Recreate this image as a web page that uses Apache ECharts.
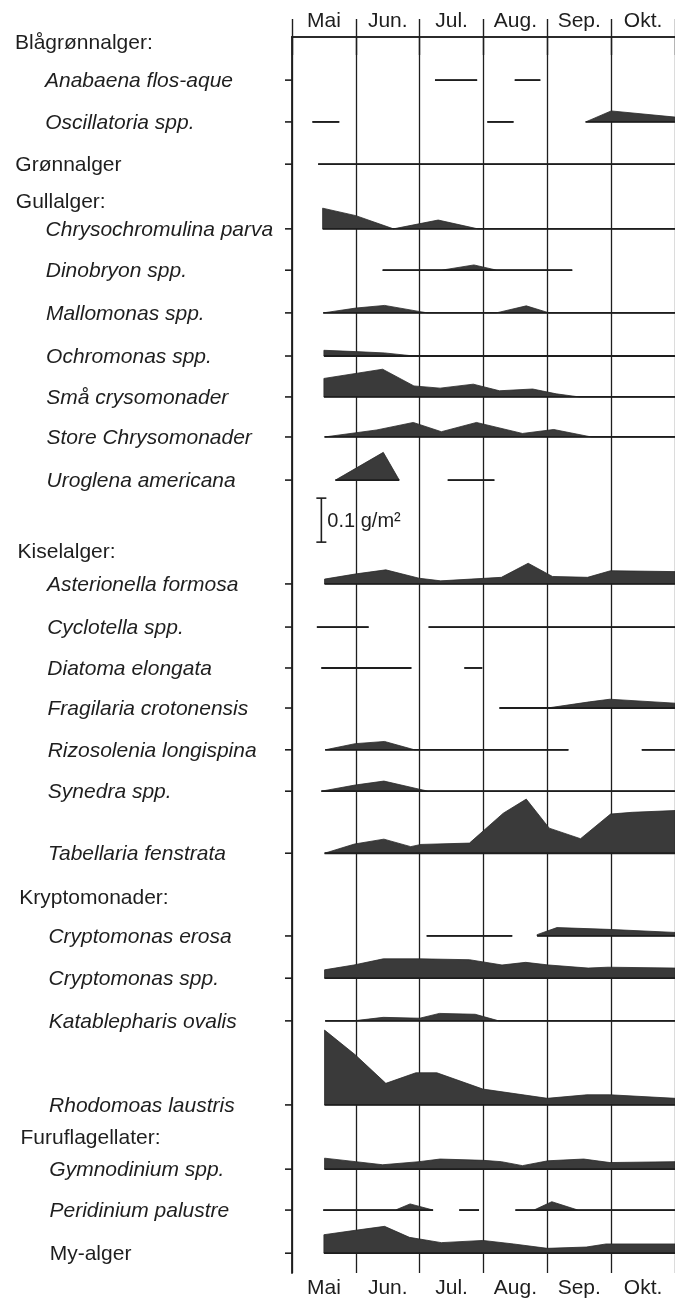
<!DOCTYPE html>
<html>
<head>
<meta charset="utf-8">
<script src="https://cdn.jsdelivr.net/npm/echarts/dist/echarts.min.js"></script>
<style>
html,body{margin:0;padding:0;background:#fff;}
#chart{width:675px;height:1302px;}
</style>
</head>
<body>
<div id="chart"></div>
<script>
// ---- Data (months: 0 = 1 May ... 6 = end of October; values in g/m²) ----
const MONTHS = ['Mai', 'Jun.', 'Jul.', 'Aug.', 'Sep.', 'Okt.'];

const GROUP_HEADERS = ['Blågrønnalger:', 'Gullalger:', 'Kiselalger:', 'Kryptomonader:', 'Furuflagellater:'];

const SPECIES_NAMES = [
  'Anabaena flos-aque', 'Oscillatoria spp.', 'Grønnalger',
  'Chrysochromulina parva', 'Dinobryon spp.', 'Mallomonas spp.', 'Ochromonas spp.',
  'Små crysomonader', 'Store Chrysomonader', 'Uroglena americana',
  'Asterionella formosa', 'Cyclotella spp.', 'Diatoma elongata', 'Fragilaria crotonensis',
  'Rizosolenia longispina', 'Synedra spp.', 'Tabellaria fenstrata',
  'Cryptomonas erosa', 'Cryptomonas spp.', 'Katablepharis ovalis', 'Rhodomoas laustris',
  'Gymnodinium spp.', 'Peridinium palustre', 'My-alger'
];

const anabaena = [[[2.24,0],[2.90,0]], [[3.49,0],[3.89,0]]];
const oscillatoria = [[[0.32,0],[0.74,0]], [[3.06,0],[3.47,0]], [[4.60,0],[5.00,0.025],[6.0,0.011]]];
const gronnalger = [[[0.41,0],[6.0,0]]];
const chrysochromulina = [[[0.48,0.047],[1.0,0.030],[1.59,0],[2.29,0.020],[2.91,0],[6.0,0]]];
const dinobryon = [[[1.42,0],[2.34,0],[2.85,0.012],[3.21,0],[4.39,0]]];
const mallomonas = [[[0.49,0],[1.0,0.011],[1.45,0.017],[2.12,0],[3.2,0],[3.67,0.016],[4.03,0],[6.0,0]]];
const ochromonas = [[[0.50,0.013],[1.0,0.010],[1.45,0.007],[1.91,0],[6.0,0]]];
const smaCrysomonader = [[[0.50,0.042],[1.42,0.063],[1.91,0.025],[2.32,0.020],[2.84,0.029],[3.25,0.014],[3.77,0.018],[4.14,0.007],[4.50,0],[6.0,0]]];
const storeChrysomonader = [[[0.51,0],[1.33,0.016],[1.90,0.033],[2.34,0.012],[2.89,0.033],[3.61,0.008],[4.10,0.017],[4.69,0],[6.0,0]]];
const uroglena = [[[0.68,0],[1.43,0.063],[1.68,0]], [[2.44,0],[3.17,0]]];
const asterionella = [[[0.51,0.011],[1.01,0.023],[1.47,0.032],[1.99,0.013],[2.33,0.007],[3.28,0.015],[3.70,0.047],[4.08,0.017],[4.63,0.015],[4.99,0.030],[6.0,0.028]]];
const cyclotella = [[[0.39,0],[1.20,0]], [[2.14,0],[6.0,0]]];
const diatoma = [[[0.46,0],[1.87,0]], [[2.70,0],[2.98,0]]];
const fragilaria = [[[3.25,0],[4.0,0],[4.66,0.014],[4.98,0.020],[6.0,0.011]]];
const rizosolenia = [[[0.52,0],[0.99,0.014],[1.45,0.019],[1.92,0],[4.33,0]], [[5.48,0],[6.0,0]]];
const synedra = [[[0.46,0],[0.99,0.014],[1.44,0.023],[2.13,0],[6.0,0]]];
const tabellaria = [[[0.51,0],[0.98,0.021],[1.44,0.032],[1.86,0.015],[2.02,0.020],[2.78,0.023],[3.31,0.091],[3.67,0.123],[4.03,0.057],[4.52,0.033],[4.99,0.089],[5.33,0.093],[6.0,0.097]]];
const cryptomonasErosa = [[[2.11,0],[3.45,0]], [[3.84,0.003],[4.15,0.019],[4.95,0.015],[6.0,0.008]]];
const cryptomonasSpp = [[[0.51,0.019],[0.97,0.030],[1.43,0.044],[2.0,0.044],[2.78,0.042],[3.29,0.030],[3.66,0.036],[4.02,0.030],[4.64,0.023],[4.95,0.025],[6.0,0.023]]];
const katablepharis = [[[0.52,0],[0.96,0],[1.43,0.008],[2.0,0.006],[2.31,0.017],[2.87,0.015],[3.24,0],[6.0,0]]];
const rhodomoas = [[[0.51,0.170],[0.99,0.114],[1.47,0.049],[1.94,0.073],[2.27,0.073],[2.99,0.036],[4.0,0.015],[4.62,0.023],[4.98,0.023],[6.0,0.015]]];
const gymnodinium = [[[0.51,0.025],[1.0,0.017],[1.42,0.010],[1.99,0.017],[2.32,0.023],[3.0,0.020],[3.28,0.017],[3.61,0.008],[4.01,0.019],[4.57,0.023],[4.98,0.015],[6.0,0.017]]];
const peridinium = [[[0.49,0],[1.62,0],[1.85,0.014],[2.21,0]], [[2.62,0],[2.93,0]], [[3.50,0],[3.79,0],[4.07,0.019],[4.48,0],[6.0,0]]];
const myAlger = [[[0.50,0.042],[0.99,0.052],[1.45,0.061],[1.84,0.036],[2.34,0.024],[2.99,0.029],[3.47,0.021],[4.0,0.011],[4.61,0.014],[4.92,0.021],[6.0,0.021]]];

const SPECIES_DATA = [
  anabaena, oscillatoria, gronnalger,
  chrysochromulina, dinobryon, mallomonas, ochromonas, smaCrysomonader, storeChrysomonader, uroglena,
  asterionella, cyclotella, diatoma, fragilaria, rizosolenia, synedra, tabellaria,
  cryptomonasErosa, cryptomonasSpp, katablepharis, rhodomoas,
  gymnodinium, peridinium, myAlger
];

const SCALE_BAR_VALUE = 0.1; // g/m²
const SCALE_BAR_LABEL = '0.1 g/m²';

// ---- Layout (row baselines on the vertical axis, 1 unit = 0.1 g/m²) ----
const UNIT = 0.1;
const ROW_POS = [0.98, 1.93, 2.89, 4.36, 5.30, 6.27, 7.25, 8.18, 9.09, 10.07,
  12.43, 13.41, 14.34, 15.25, 16.20, 17.14, 18.55,
  20.43, 21.39, 22.36, 24.27, 25.73, 26.66, 27.64];
const ROW_ITALIC = SPECIES_NAMES.map(n => !(n === 'Grønnalger' || n === 'My-alger'));
const ROW_HEADER_INDENT = SPECIES_NAMES.map(n => n === 'Grønnalger');
const HEADER_POS = [0.14, 3.75, 11.70, 19.57, 25.02];
const SCALE_BAR_POS = [0.46, 11.48];
const Y_MAX = 28.09;

const FONT = '"Liberation Sans", Arial, Helvetica, sans-serif';
const INK = '#1e1e1e';
const FILL = '#3a3a3a';

const chart = echarts.init(document.getElementById('chart'), null, {renderer: 'canvas'});

function renderKite(params, api) {
  const k = api.value(0), s = api.value(1);
  const seg = SPECIES_DATA[k][s];
  const base = ROW_POS[k];
  const pts = seg.map(p => api.coord([p[0], base - p[1] / UNIT]));
  const b0 = api.coord([seg[0][0], base]);
  const b1 = api.coord([seg[seg.length - 1][0], base]);
  const poly = [b0].concat(pts, [b1]);
  return {
    type: 'group',
    children: [
      {type: 'polygon', shape: {points: poly}, style: {fill: FILL, stroke: '#2a2a2a', lineWidth: 0.8}},
      {type: 'line', shape: {x1: b0[0], y1: b0[1], x2: b1[0], y2: b1[1]}, style: {stroke: INK, lineWidth: 1.8}}
    ]
  };
}

function renderRowLabel(params, api) {
  const i = api.value(0);
  const c = api.coord([0, ROW_POS[i]]);
  const y = c[1];
  const indent = ROW_HEADER_INDENT[i] ? 15 : 45;
  const x = indent + (y - 80) * 0.004;
  return {
    type: 'group',
    children: [
      {type: 'line', shape: {x1: c[0] - 7, y1: y, x2: c[0], y2: y}, style: {stroke: INK, lineWidth: 1.6}},
      {type: 'text', x: x, y: y + 1, style: {text: SPECIES_NAMES[i], fill: INK,
        font: (ROW_ITALIC[i] ? 'italic ' : '') + '21px ' + FONT, align: 'left', verticalAlign: 'middle'}}
    ]
  };
}

function renderHeader(params, api) {
  const i = api.value(0);
  const c = api.coord([0, HEADER_POS[i]]);
  const y = c[1];
  const x = 15 + (y - 43) * 0.005;
  return {type: 'text', x: x, y: y, style: {text: GROUP_HEADERS[i], fill: INK,
    font: '21px ' + FONT, align: 'left', verticalAlign: 'middle'}};
}

function renderScaleBar(params, api) {
  const bottom = api.coord([SCALE_BAR_POS[0], SCALE_BAR_POS[1]]);
  const top = api.coord([SCALE_BAR_POS[0], SCALE_BAR_POS[1] - SCALE_BAR_VALUE / UNIT]);
  const st = {stroke: INK, lineWidth: 1.6};
  return {
    type: 'group',
    children: [
      {type: 'line', shape: {x1: top[0], y1: top[1], x2: bottom[0], y2: bottom[1]}, style: st},
      {type: 'line', shape: {x1: top[0] - 5, y1: top[1], x2: top[0] + 5, y2: top[1]}, style: st},
      {type: 'line', shape: {x1: bottom[0] - 5, y1: bottom[1], x2: bottom[0] + 5, y2: bottom[1]}, style: st},
      {type: 'text', x: top[0] + 6, y: (top[1] + bottom[1]) / 2 + 1, style: {text: SCALE_BAR_LABEL, fill: INK,
        font: '20px ' + FONT, align: 'left', verticalAlign: 'middle'}}
    ]
  };
}

const kiteItems = [];
SPECIES_DATA.forEach((segs, k) => segs.forEach((seg, s) => kiteItems.push([k, s])));

const monthAxisCommon = {
  type: 'category',
  data: MONTHS,
  boundaryGap: true,
  axisLine: {show: true, lineStyle: {color: INK, width: 1.6}},
  axisTick: {show: true, length: 18, interval: 0, lineStyle: {color: INK, width: 1.4}},
  axisLabel: {show: true, interval: 0, color: INK, fontSize: 21, fontFamily: FONT, margin: 5},
  splitLine: {show: false}
};

const option = {
  animation: false,
  backgroundColor: '#ffffff',
  grid: {left: 292, top: 37, width: 387, height: 1236, containLabel: false},
  xAxis: [
    Object.assign({}, monthAxisCommon, {position: 'bottom', gridIndex: 0,
      splitLine: {show: true, interval: 0, lineStyle: {color: INK, width: 1.3}}}),
    Object.assign({}, monthAxisCommon, {position: 'top', gridIndex: 0}),
    {type: 'value', min: 0, max: 6, show: false, gridIndex: 0}
  ],
  yAxis: [{
    type: 'value', min: 0, max: Y_MAX, inverse: true,
    axisLine: {show: true, lineStyle: {color: INK, width: 1.8}},
    axisTick: {show: false}, axisLabel: {show: false}, splitLine: {show: false}
  }],
  series: [
    {type: 'custom', name: 'kites', xAxisIndex: 2, yAxisIndex: 0, silent: true, clip: false,
      renderItem: renderKite, data: kiteItems},
    {type: 'custom', name: 'rowLabels', xAxisIndex: 2, yAxisIndex: 0, silent: true, clip: false,
      renderItem: renderRowLabel, data: SPECIES_NAMES.map((n, i) => [i, 0])},
    {type: 'custom', name: 'headers', xAxisIndex: 2, yAxisIndex: 0, silent: true, clip: false,
      renderItem: renderHeader, data: GROUP_HEADERS.map((n, i) => [i, 0])},
    {type: 'custom', name: 'scaleBar', xAxisIndex: 2, yAxisIndex: 0, silent: true, clip: false,
      renderItem: renderScaleBar, data: [[0, 0]]}
  ]
};
chart.setOption(option);
</script>
</body>
</html>
